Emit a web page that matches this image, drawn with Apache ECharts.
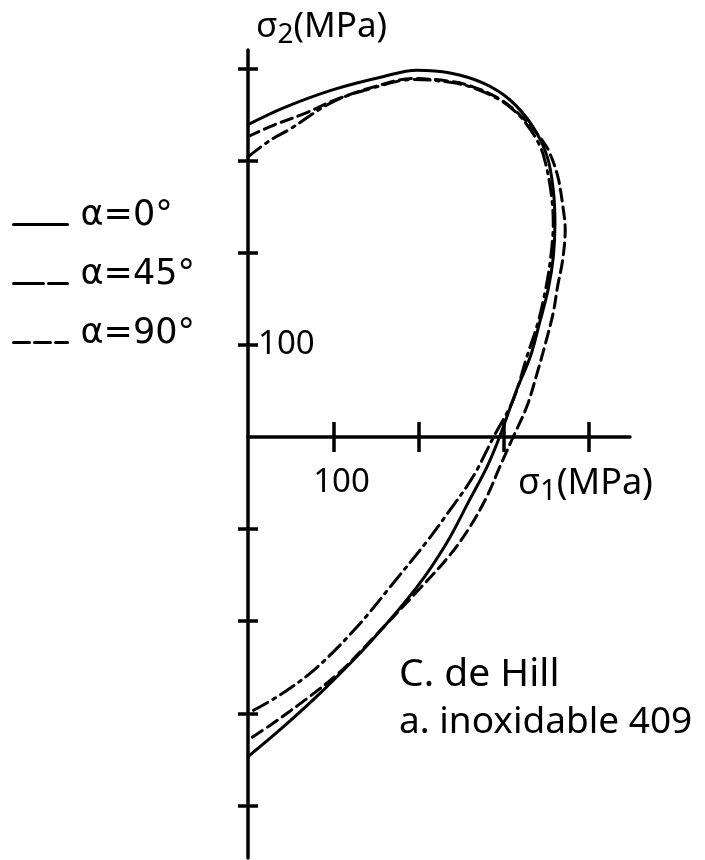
<!DOCTYPE html>
<html>
<head>
<meta charset="utf-8">
<script src="https://cdn.jsdelivr.net/npm/echarts@6/dist/echarts.min.js"></script>
<style>
  html, body { margin: 0; padding: 0; background: #fff; }
  #chart { width: 705px; height: 860px; }
</style>
</head>
<body>
<div id="chart"></div>
<script>
// Hill yield loci of stainless steel 409, sigma1 >= 0 half of the (sigma1, sigma2) plane, MPa
const seriesNames = ['α=0°', 'α=45°', 'α=90°'];

const alpha0 = [[0,339],[41,357],[100,377],[158,391],[198,398],[237,395],[276,384],[307,366],[334,337],[351,304],[358,268],[360,232],[358,195],[352,160],[342,124],[331,87],[315,51],[295,0],[280,-33],[260,-68],[233,-115],[198,-163],[143,-223],[88,-275],[41,-315],[0,-347]];

const alpha45 = [[0,304],[26,322],[49,334],[100,364],[151,380],[193,388],[237,385],[264,379],[295,366],[315,352],[327,339],[339,322],[347,304],[355,268],[358,232],[355,195],[349,160],[340,124],[327,87],[311,40],[288,0],[264,-43],[234,-83],[211,-112],[170,-159],[128,-206],[81,-250],[41,-278],[0,-300]];

const alpha90 = [[0,326],[29,338],[69,352],[100,365],[151,381],[193,389],[237,386],[264,380],[295,367],[316,352],[333,336],[345,322],[352,312],[363,284],[369,252],[372,225],[369,192],[363,163],[358,135],[349,102],[339,69],[327,33],[311,0],[295,-33],[280,-65],[260,-98],[237,-128],[202,-164],[145,-220],[108,-255],[69,-284],[29,-311],[0,-329]];

const xTicks = [100, 200, 300, 400];
const xTickLabels = [100];
const yTicks = [-400, -300, -200, -100, 100, 200, 300, 400];
const yTickLabels = [100];

const FONT = 'Noto Sans';
const LEGEND_FONT = 'DejaVu Sans';
const INK = '#000';

const CHART_H = 860;
const GRID = { left: 248, right: 75, top: 50, bottom: 2 };
const xRange = { min: 0, max: 448 };
const yRange = { min: -457, max: 420 };

// the sigma1 axis runs through sigma2 = 0: shift it up from the grid's bottom edge by that distance
const gridHeight = CHART_H - GRID.top - GRID.bottom;
const xAxisOffset = -gridHeight * (0 - yRange.min) / (yRange.max - yRange.min);

const chart = echarts.init(document.getElementById('chart'), null, { renderer: 'canvas' });

// each axis is drawn twice on one scale so that the ticks cross the axis line
function xAxisDef(tickInside, withLine, withLabel) {
  return {
    type: 'value', ...xRange, position: 'bottom', offset: xAxisOffset,
    axisLine: { show: withLine, onZero: false, lineStyle: { color: INK, width: 3.5 } },
    axisTick: { show: true, inside: tickInside, length: 15, customValues: xTicks, lineStyle: { color: INK, width: 3.5 } },
    axisLabel: withLabel ? {
      show: true, customValues: xTickLabels, margin: 29, color: INK,
      fontFamily: FONT, fontSize: 33, hideOverlap: false,
      formatter: v => '\u2002' + v
    } : { show: false },
    splitLine: { show: false }
  };
}

function yAxisDef(tickInside, withLine, withLabel) {
  return {
    type: 'value', ...yRange, position: 'left',
    axisLine: { show: withLine, onZero: false, lineStyle: { color: INK, width: 3.5 } },
    axisTick: { show: true, inside: tickInside, length: 10, customValues: yTicks, lineStyle: { color: INK, width: 3.5 } },
    axisLabel: withLabel ? {
      show: true, inside: true, customValues: yTickLabels, margin: 10, color: INK,
      fontFamily: FONT, fontSize: 33
    } : { show: false },
    splitLine: { show: false }
  };
}

function curve(name, data, dash) {
  return {
    name, type: 'line', data, xAxisIndex: 0, yAxisIndex: 0,
    smooth: 0.35, symbol: 'none', clip: false,
    itemStyle: { color: INK },
    lineStyle: { color: INK, width: 3, type: dash, cap: 'round' }
  };
}

function axisTitle(sub, size) {
  return {
    text: '{a|σ}{b|' + sub + '}{a|(MPa)}',
    rich: {
      a: { fontSize: size, fontFamily: FONT, fill: INK },
      b: { fontSize: size - 7, fontFamily: FONT, fill: INK, padding: [16, 0, 0, 0] }
    }
  };
}

const hidden = { opacity: 0, borderWidth: 0 };

chart.setOption({
  animation: false,
  backgroundColor: '#fff',
  grid: { ...GRID, containLabel: false, outerBoundsMode: 'none' },
  xAxis: [xAxisDef(false, true, true), xAxisDef(true, false, false)],
  yAxis: [yAxisDef(false, true, true), yAxisDef(true, false, false)],
  legend: {
    orient: 'vertical', left: 12, top: 198, padding: 0,
    itemWidth: 54, itemHeight: 14, itemGap: 6,
    formatter: name => '{t|' + name + '}',
    textStyle: {
      color: INK,
      rich: { t: { fontFamily: LEGEND_FONT, fontSize: 35, color: INK, lineHeight: 40, padding: [0, 0, 18, 8] } }
    },
    data: [
      { name: seriesNames[0], itemStyle: hidden, lineStyle: { type: 'solid', width: 3 } },
      { name: seriesNames[1], itemStyle: hidden, lineStyle: { type: [30, 5], width: 3 } },
      { name: seriesNames[2], itemStyle: hidden, lineStyle: { type: [16, 5], width: 3 } }
    ]
  },
  series: [
    curve(seriesNames[0], alpha0, 'solid'),
    curve(seriesNames[1], alpha45, [16, 6, 3, 6]),
    curve(seriesNames[2], alpha90, [12, 6])
  ],
  graphic: [
    { type: 'text', left: 256, top: 10, style: axisTitle('2', 35) },
    { type: 'text', left: 518, top: 466, style: axisTitle('1', 36) },
    { type: 'text', left: 399, top: 655, style: { text: 'C. de Hill', fontFamily: FONT, fontSize: 39, fill: INK } },
    { type: 'text', left: 399, top: 704, style: { text: 'a. inoxidable 409', fontFamily: FONT, fontSize: 37, fill: INK } }
  ]
});
</script>
</body>
</html>
